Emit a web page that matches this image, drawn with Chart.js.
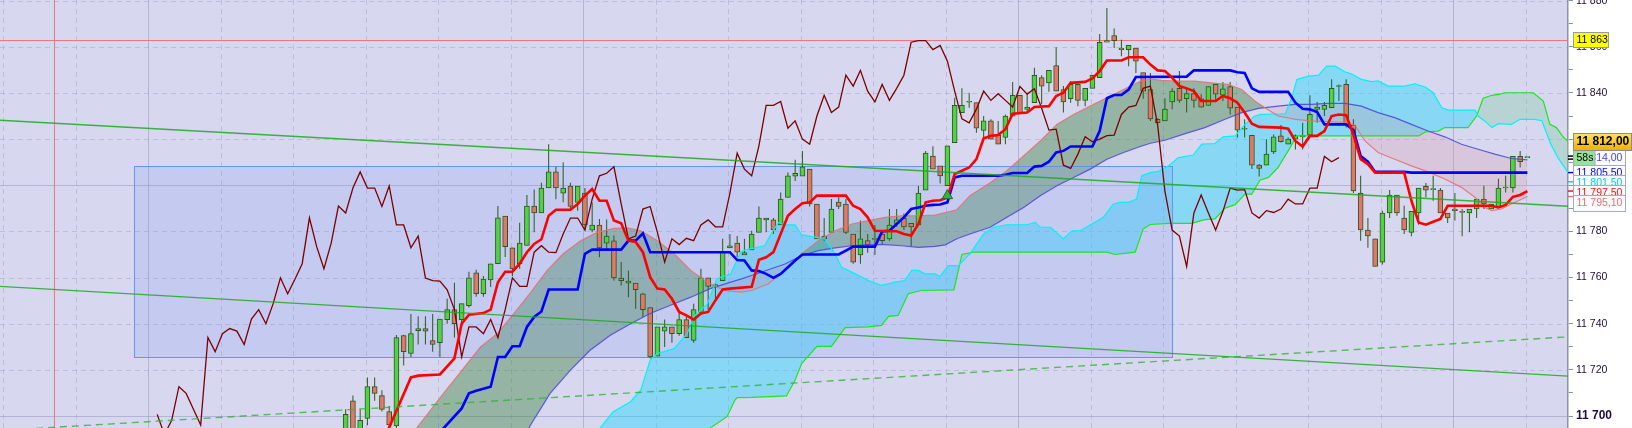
<!DOCTYPE html>
<html><head><meta charset="utf-8">
<script src="https://cdn.jsdelivr.net/npm/chart.js@4.4.1/dist/chart.umd.min.js"></script>
<style>html,body{margin:0;padding:0;background:#fff;overflow:hidden}#wrap{width:1632px;height:428px}</style>
</head><body><div id="wrap"><canvas id="c" width="1632" height="428"></canvas></div>
<script>
// ---------- DATA ----------
const opens = [
11690,11706.6,11692,11699,11712.8,11708.8,11701.9,11695.7,11734.9,11727.1,
11737,11737.9,11732.7,11731.8,11741.8,11746.1,11741.8,11747.8,11762.1,11753,
11759,11766,11786.7,11772.9,11766,11773.9,11791,11788,11798.8,11805.8,
11796.6,11799.7,11792.6,11796.6,11780.5,11782.8,11774.9,11775.9,11759.8,11757.6,
11757.6,11753,11747,11725.9,11736.8,11738.6,11735.7,11741.8,11732.8,11744.9,
11759.9,11757,11758.7,11772.9,11774.9,11769.8,11772,11779.6,11785,11785,
11782.8,11794.7,11804,11804,11807,11791.9,11776.8,11779.6,11792.7,11791.9,
11778.9,11769.8,11776,11776.5,11778.9,11776.8,11783.5,11785.8,11783.5,11782.8,
11797.9,11812.6,11808.4,11799.8,11818.5,11831.5,11836,11835.8,11823.8,11827.9,
11821.8,11820.7,11830,11839,11832.9,11835.8,11846.7,11844.4,11851.9,11841.5,
11837.5,11843.7,11836.8,11842,11846.6,11862,11864.9,11859.5,11858.8,11859.5,
11848.8,11841.5,11828.6,11827.9,11836.1,11842,11837.5,11839.7,11837.5,11834.6,
11843.7,11839,11842.8,11833.9,11824.3,11821.7,11808.7,11808.7,11814.5,11821.4,
11817.8,11820,11821,11821.7,11832.9,11832.9,11833.6,11842.8,11843.7,11826.1,
11796.6,11780.6,11776.8,11766.7,11788,11795.8,11785.8,11779.6,11788,11799.5,
11798.1,11797.9,11788,11789.7,11788.7,11788,11789.7,11794,11789.7,11790.8,
11798.8,11798.8,11812.5,11812];
const highs = [
11702.9,11708.9,11702.9,11716.7,11716.7,11711.2,11704.3,11735.1,11735.2,11744.2,
11743.2,11743.2,11744.2,11742,11750.8,11757.7,11748.7,11762.5,11763.4,11760.7,
11766,11791,11786.7,11772.9,11783.8,11795.8,11798.2,11801.1,11817.8,11808,
11810,11801.1,11799.7,11798.8,11792.6,11785.4,11785.2,11778.2,11766.8,11763.1,
11757.6,11753.4,11747,11738.6,11741.8,11738.6,11744.9,11743.2,11748.7,11763.8,
11759.9,11757.6,11776.8,11778.9,11778,11776.8,11780.3,11790.8,11785.8,11785.8,
11796.9,11805.5,11811.1,11814.9,11807,11791.9,11785.8,11794,11795.2,11794,
11778.9,11784.7,11778.9,11782.8,11780.6,11789.7,11789.7,11787.8,11783.5,11799.7,
11814.9,11816.9,11808.4,11817.1,11837.9,11842,11840.1,11835.8,11830,11828.6,
11827.9,11830.7,11844.8,11839,11840.1,11850.9,11847.7,11849.8,11859.8,11843,
11845.1,11843.7,11842,11847.7,11865.6,11876.8,11867.9,11863.1,11860.6,11859.5,
11848.8,11848.7,11829,11837.7,11842,11849.5,11842,11842,11839.4,11842.8,
11843.7,11844.8,11844.8,11833.9,11828.6,11821.7,11809.2,11820,11822,11826.1,
11820.7,11822,11827.1,11839,11836.1,11836.1,11845.9,11843.7,11845.9,11828.6,
11804.1,11785.8,11776.8,11789,11797.9,11795.8,11791.1,11788.7,11798.8,11801,
11804.1,11798.8,11788,11796.6,11789.7,11789.7,11794,11799.8,11791.9,11802.8,
11804.1,11812.5,11814.9,11812];
const lows = [
11688,11688,11688,11696,11706.6,11701.9,11694,11694,11721.9,11725.6,
11731,11731,11727.8,11725.6,11740,11734,11740,11747,11751.7,11751.7,
11755.9,11766,11768.9,11760.7,11763.8,11773.9,11779.6,11788,11798.8,11793.9,
11792.6,11789,11789,11780.5,11779.6,11768.8,11772.4,11758.7,11756.6,11751.5,
11746.5,11742.9,11724.9,11725.9,11729.9,11731.7,11734.8,11734,11731.7,11744.9,
11746.1,11750.7,11758.7,11772.9,11768.8,11769.8,11772,11779.6,11779.6,11778.9,
11782.8,11794.7,11801.9,11804,11790.8,11776.8,11776,11779.6,11789.7,11778.9,
11766,11766,11770.8,11769.8,11774.3,11776,11782,11780.6,11773.6,11782.8,
11797.9,11807,11800.8,11799.8,11818.5,11831.5,11833.6,11822.8,11820.4,11820,
11817.8,11817.8,11830,11831.5,11831.5,11835.8,11835.1,11840.5,11840.8,11831.5,
11835.8,11834.3,11834.3,11842,11846.6,11862,11859.5,11855.9,11851.6,11848.7,
11837.5,11827.9,11826.5,11827.9,11832.9,11835.8,11831.5,11833.6,11833.6,11834.6,
11836.5,11836.5,11830.7,11820.7,11820.7,11807,11803.8,11808.7,11813.6,11818.5,
11817.8,11815.5,11815.5,11821.7,11827.1,11830,11833.6,11836.5,11825,11796.6,
11776,11772.9,11764.8,11765.7,11785.8,11786.8,11778.9,11777.9,11782.9,11794.7,
11793.3,11788,11783.7,11784.7,11777.9,11779.6,11785.8,11789.7,11789.7,11790.8,
11796.9,11796.9,11807.7,11812];
const closes = [
11700.7,11692,11698.1,11712.7,11709.8,11702.9,11696.1,11734,11727.9,11735.7,
11737.9,11736.8,11731,11742,11746.1,11740,11748.7,11759.9,11753,11759.3,
11766,11785.9,11773.4,11763.8,11774.9,11791,11788,11798.8,11805.8,11798.8,
11798.8,11790.8,11799.7,11782.8,11782.8,11772.9,11778,11759.8,11758.7,11758.5,
11754.7,11746.1,11725.6,11738.6,11738.6,11735.7,11741.8,11734,11746.1,11759.9,
11756.2,11756.2,11771,11773.8,11771,11770.8,11778.9,11785.8,11785.8,11780.6,
11794,11804.1,11805.2,11808,11791.9,11776.8,11778,11789.7,11790.8,11779.6,
11766.7,11776.8,11774.3,11777,11776,11782.8,11785,11782,11782,11796.6,
11813.9,11807,11804.1,11817.1,11834.6,11834.6,11836.3,11824.7,11827.9,11820,
11817.8,11830,11839,11831.5,11833.9,11847.7,11843,11849.8,11840.8,11836.1,
11843.7,11836.8,11842,11847.7,11862,11862.7,11862.7,11858.8,11860.6,11853.8,
11840.8,11828.8,11827.1,11833,11840.8,11836.8,11839.7,11836.8,11833.9,11842.8,
11839.5,11841.8,11833.4,11823.9,11824.3,11808.7,11807.3,11813.5,11821,11818.9,
11820,11821.5,11821.7,11830.7,11833.9,11834.6,11842,11843,11826,11797.5,
11780.6,11778,11764.8,11788,11795.8,11788,11780.6,11788.7,11798.8,11797.9,
11798.1,11788,11785.8,11789,11788.2,11789.7,11794,11791.9,11791.9,11798.8,
11798.8,11812.5,11810.2,11812];

// lagging line = closes drawn this many candles back
const chikouShift = 26;

// conversion line (red)
const tenkanLine = [[5,11688],[6,11695],[9,11716.7],[10,11717.5],[13,11718],[15,11725],[16,11740],[17,11743.9],[19,11744.6],[20,11746.1],[21,11758],[22,11762.5],[23,11762.5],[24,11766],[25,11771],[26,11774.6],[27,11776.6],[28,11786.8],[29,11789.4],[31,11789.4],[32,11791.9],[33,11795.5],[34,11798.4],[35,11793.3],[36,11793.3],[37,11784.7],[38,11783.5],[39,11776],[40,11775.4],[41,11771],[42,11760.2],[43,11755.2],[44,11754.8],[45,11750.8],[46,11745.1],[47,11743.6],[48,11741.8],[49,11744.4],[50,11745.1],[51,11750.1],[52,11754.8],[53,11755.2],[56,11756],[57,11767.7],[58,11768.8],[59,11771],[61,11786.8],[62,11789.7],[63,11792.2],[64,11792.6],[65,11795.5],[69,11795.5],[70,11791.1],[71,11789.7],[72,11786.1],[73,11780.3],[76,11780.1],[77,11778.9],[78,11778.2],[79,11783.2],[80,11792.6],[81,11793.3],[82,11793.5],[83,11794.7],[84,11804.8],[85,11806.3],[86,11807.7],[87,11811.3],[88,11820.4],[89,11821.4],[90,11821.8],[91,11824.3],[92,11831],[94,11831.5],[95,11833.9],[97,11834.3],[98,11838.7],[99,11840.1],[100,11844.4],[102,11844.8],[103,11846.3],[104,11849.5],[105,11854.1],[107,11854.1],[108,11855.5],[110,11855.5],[111,11852.3],[112,11849.8],[113,11849.5],[114,11846.6],[115,11843],[116,11842],[117,11840.8],[118,11836.5],[120,11836.5],[121,11838.7],[122,11837.7],[123,11835.8],[124,11831.5],[125,11826.7],[126,11825.3],[129,11825],[130,11824.5],[131,11819.2],[132,11816.8],[133,11821.4],[134,11821.4],[135,11823.5],[136,11830],[137,11830.7],[138,11830.4],[139,11822],[140,11811.3],[141,11809.2],[142,11805.5],[146,11805.5],[147,11793.3],[148,11783.9],[149,11782.9],[150,11784.2],[151,11785.4],[152,11791.1],[158,11791.1],[159,11790.4],[160,11791.5],[161,11795],[162,11795.8],[163,11797.5]];

// base line (blue)
const kijunLine = [[13,11693],[16,11703.3],[17,11709.8],[18,11710.9],[20,11712.7],[21,11725.6],[22,11725.6],[23,11730.2],[24,11730.2],[25,11738.6],[26,11742.9],[27,11745.3],[28,11754.8],[32,11754.8],[33,11770.3],[34,11772.1],[38,11772.1],[39,11776],[40,11776],[41,11779.2],[42,11771],[53,11771],[54,11767.6],[55,11767.4],[56,11763.1],[57,11762.8],[58,11761.6],[59,11759.9],[60,11761.6],[61,11764.5],[62,11767.4],[63,11770],[68,11770],[69,11771.7],[70,11773.4],[73,11773.4],[74,11780],[75,11780.3],[76,11783.2],[77,11786.1],[78,11789.7],[79,11790.4],[80,11791.1],[81,11791.5],[82,11791.7],[83,11792.6],[84,11803.4],[85,11804.1],[90,11804.1],[91,11804.6],[92,11805.3],[94,11805.3],[95,11808.1],[96,11808.4],[97,11810.2],[98,11814.2],[99,11814.9],[100,11816.8],[103,11816.8],[104,11823.5],[105,11837.7],[106,11839.1],[107,11839.1],[108,11841.5],[109,11846.9],[116,11847.1],[117,11849.8],[122,11849.8],[123,11849],[124,11848.7],[125,11842],[126,11840.5],[130,11840.5],[131,11835.8],[132,11833.2],[133,11832.9],[134,11831.7],[135,11826.4],[138,11826.4],[139,11824],[140,11812.7],[141,11810.2],[142,11805.8],[146,11805.8],[147,11805.5],[163,11805.5]];

// thin pink average (upper edge of the grey band)
const bandPinkLine = [[9.5,11690],[9.8,11694.8],[13.5,11709.8],[18.6,11729.9],[20.9,11735.7],[23,11743.6],[25.5,11753.5],[27.8,11763.1],[30,11770.3],[32.4,11776],[34.7,11779.6],[37,11781.3],[38.8,11781.5],[40.7,11780.3],[43,11776],[45.3,11770.3],[47.6,11763.1],[49.9,11758],[52.2,11754.4],[54.5,11753.7],[56,11754.4],[58.3,11757.3],[60.6,11763.1],[62.9,11770.3],[65.2,11776],[67.5,11780.3],[69.8,11783.2],[72.1,11784.7],[74.4,11786.1],[76.7,11786.8],[79,11786.8],[81.3,11787.1],[84.3,11789.4],[86.1,11795.5],[88.9,11801.1],[91.2,11806.3],[93.5,11812.7],[95.8,11819.2],[98.1,11826.4],[100.4,11830.7],[102.7,11834.3],[105,11837.9],[107.3,11841.5],[109.6,11845.1],[111,11846.1],[112.5,11845.5],[114.85,11845.1],[117.1,11845.1],[119.4,11844.4],[121.7,11843.7],[123.6,11841.5],[125.4,11836.5],[126.8,11833.6],[128.6,11830],[131,11828.6],[133.2,11827.9],[135.5,11827.6],[137.8,11827.2],[139.2,11826],[140.6,11819.2],[142.4,11814.2],[144.7,11811.3],[147,11808.4],[149.3,11805.8],[151.6,11802.7],[153.9,11799.1],[155.8,11794.7],[157.1,11790.4],[158.1,11789],[159.4,11789.7],[160.8,11791.9],[163,11795.1]];

// thin blue average (lower edge of the grey band)
const bandBlueLine = [[9.5,11670],[24.5,11690],[25.5,11696.1],[28.2,11709.8],[31,11719.9],[33.7,11728.5],[36.5,11735],[39.3,11740],[42,11744.4],[44.8,11748],[47.6,11751.5],[50.3,11755.2],[53.1,11758],[54.5,11759.3],[56,11760.9],[58.3,11763.4],[60.6,11765.9],[62.9,11769.5],[65.2,11771.7],[67.5,11772.9],[69.8,11773.8],[72.1,11774.3],[74.4,11774.3],[76.7,11773.8],[79,11773.1],[81.3,11773.5],[82.7,11774.2],[84.3,11776.8],[86.1,11778.9],[88.9,11781.8],[91.2,11786.1],[93.5,11790.4],[95.8,11795.5],[98.1,11799.8],[100.4,11803.4],[102.7,11807],[105,11811.3],[107.3,11814.2],[109.6,11816.8],[111,11818.2],[113,11819.5],[115.8,11822.4],[118.5,11825],[121.3,11828.6],[123.6,11831.5],[125.9,11833.3],[128.6,11834.3],[131,11835.1],[133.2,11835.1],[135.5,11835.5],[137.8,11835.5],[140.1,11834.3],[142.4,11831.5],[144.7,11829.3],[147,11826.4],[149.3,11823.5],[151.6,11821],[153.9,11817.8],[156.2,11815.6],[158.5,11813.5],[160.8,11811.6],[163,11811]];

// leading span A (cyan) and leading span B (green)
const spanALine = [[35,11690],[35.1,11694.8],[36.9,11701.9],[39.3,11706.2],[40.7,11711.2],[42,11724.2],[43,11727.1],[45.3,11729.2],[47.1,11735.7],[48,11742.9],[49.9,11748.7],[51.2,11759.5],[53.1,11761.6],[54.5,11771],[55.1,11772],[57.8,11773.8],[58.8,11779.6],[59.7,11783.9],[60.6,11782.8],[62,11782.8],[62.9,11778.5],[64.7,11777.5],[66.1,11776.8],[67.5,11770.3],[68.4,11764.5],[70.3,11761.6],[72.1,11758.7],[73.9,11756.6],[75.8,11758],[77.1,11758.7],[78.1,11763.1],[79,11763.1],[79.9,11761.6],[81.3,11761.6],[82,11760.5],[83.1,11765.2],[84.5,11765.2],[86.1,11770.3],[88,11778.9],[89.4,11781.8],[91.2,11782.9],[94,11782.9],[95.1,11783.9],[95.8,11781.8],[97.2,11781.8],[99,11776.8],[100.2,11780.3],[101.3,11780.3],[103.1,11783.5],[104.5,11786.1],[105.9,11791.9],[106.8,11792.6],[108,11792.6],[109.1,11794],[109.8,11804.1],[111,11805.5],[112.1,11806],[113.5,11808.4],[114.85,11812],[116.9,11813.1],[118.1,11817.8],[119.9,11818.1],[121.05,11821],[122.7,11821.4],[124.05,11826.4],[125.4,11830],[126.3,11830.7],[129.6,11831],[130.5,11837.9],[131.2,11845.9],[132.8,11847.3],[134.2,11847.7],[135.3,11851.6],[136.5,11851.6],[137.8,11849.2],[138.7,11848.3],[140.1,11845.9],[141.5,11844.9],[142.4,11845.2],[143.8,11843],[146.1,11843],[147.5,11844],[148.9,11842.6],[150,11840.1],[151.2,11833.6],[152.1,11832.6],[155.8,11832.6],[156.2,11830],[157.1,11827.9],[158.1,11825],[159,11826.7],[160.8,11826.4],[162,11828.6],[164,11828.6],[165,11828],[166.2,11818],[167.2,11812],[168.5,11806],[169,11804]];
const spanBLine = [[35,11670],[50,11690],[50.3,11694.8],[52.6,11699.7],[53.7,11706.9],[54,11708],[56,11708.1],[60.8,11708.7],[62,11715.6],[62.9,11722.7],[65,11730.2],[67,11730.2],[68.9,11738.3],[72.1,11738.6],[73.9,11739.3],[74.9,11743.2],[76.2,11743.6],[77.6,11753],[79.4,11754.4],[83.9,11754.7],[85,11770],[86.6,11771],[105,11771],[106.1,11770],[108.9,11771],[110,11781.1],[111,11783],[113.5,11783.5],[116.7,11783.5],[118.5,11785.1],[119.9,11785.4],[121.3,11790.1],[122.7,11791.6],[124.05,11796.2],[125,11796.2],[126.1,11802.2],[127.3,11803.4],[128.6,11807.7],[130,11814.9],[131.2,11821.4],[148,11821.4],[148.9,11823.1],[150.7,11823.5],[151.6,11825],[154.8,11825],[156,11830],[156.9,11837.7],[158.1,11839],[159.2,11839.5],[159.9,11840.1],[163.8,11840.1],[165.2,11836.5],[166.1,11826.4],[167,11825],[168,11820.7],[169,11818]];

// drawn trend lines (two points each)
const trendUpper = [[-47.68,11828.2],[168.6,11790.9]];
const trendLower = [[-47.68,11756.2],[168.6,11717.3]];
const trendDashed = [[-47.68,11693.7],[168.6,11734.3]];
// drawn zone box: candle index range and price range
const zoneX = [-29.2, 114];
const zoneY = [11725.4, 11808.3];
// red cross-hair annotations
const markerLevel = 11863;
const markerIdx = -40.2;
// buy arrow
const arrowPoint = [[83, 11795.5]];
// right-axis tags
const yTickValues = [11700,11710,11720,11730,11740,11750,11760,11770,11780,11790,11800,11810,11820,11830,11840,11850,11860,11870,11880];
const lastPrice = 11812;
const countdownText = '58s';
const hiddenLevel = 11814;
const levelValues = [11805.5, 11801.5, 11797.5, 11795.1];

// ---------- helpers ----------
const fmtInt = v => String(Math.floor(v)).replace(/\B(?=(\d{3})+(?!\d))/g, ' ');
const fmtDec = v => fmtInt(v) + ',' + v.toFixed(2).split('.')[1];
const pts = arr => arr.map(([x, y]) => ({x, y}));

const GREEN_BODY = '#52d048', RED_BODY = '#e2766a', CANDLE_EDGE = '#2a5a1c';
const levelColors = ['#0000ff', '#00d2de', '#ff1010', '#e07272'];

const bodyData = opens.map((o, i) => ({x: i, y: [o, closes[i]]}));
const wickData = opens.map((o, i) => ({x: i, y: [lows[i], highs[i]]}));
const bodyColors = opens.map((o, i) => closes[i] >= o ? GREEN_BODY : RED_BODY);
const chikouData = closes.map((c, i) => ({x: i - chikouShift, y: c}));

const lineBase = {type: 'line', pointRadius: 0, pointHoverRadius: 0, tension: 0, clip: 0, fill: false};

const datasets = [
  {type: 'bar', data: wickData, backgroundColor: CANDLE_EDGE, barThickness: 1, grouped: false, order: 20, inflateAmount: 0, clip: 0},
  {type: 'bar', data: bodyData, backgroundColor: bodyColors, borderColor: CANDLE_EDGE, borderWidth: 1, borderSkipped: false, barThickness: 5, grouped: false, minBarLength: 1, order: 19, clip: 0},
  {...lineBase, data: pts(bandBlueLine), borderColor: 'rgba(70,70,215,0.85)', borderWidth: 1.2, order: 9},
  {...lineBase, data: pts(bandPinkLine), borderColor: 'rgba(232,110,110,0.85)', borderWidth: 1.2, order: 8,
    fill: {target: 2, above: 'rgba(60,130,60,0.42)', below: 'rgba(225,140,150,0.22)'}},
  {...lineBase, data: pts(spanBLine), borderColor: '#1ee61e', borderWidth: 1.2, order: 9},
  {...lineBase, data: pts(spanALine), borderColor: '#00f4f4', borderWidth: 1.2, order: 8,
    fill: {target: 4, above: 'rgba(40,215,250,0.45)', below: 'rgba(140,205,170,0.40)'}},
  {...lineBase, data: chikouData, borderColor: '#7c0000', borderWidth: 1.3, order: 6},
  {...lineBase, data: pts(kijunLine), borderColor: '#0000ff', borderWidth: 2.6, order: 5},
  {...lineBase, data: pts(tenkanLine), borderColor: '#ff0000', borderWidth: 2.6, order: 4},
  {...lineBase, data: pts(trendUpper), borderColor: 'rgba(30,170,30,0.85)', borderWidth: 1.4, order: 3},
  {...lineBase, data: pts(trendLower), borderColor: 'rgba(30,170,30,0.85)', borderWidth: 1.4, order: 3},
  {...lineBase, data: pts(trendDashed), borderColor: 'rgba(50,180,50,0.8)', borderWidth: 1.4, borderDash: [7, 5], order: 3},
  {...lineBase, data: pts(arrowPoint), showLine: false, pointRadius: 6, pointStyle: 'triangle', backgroundColor: '#3cae3c', borderColor: '#1f6e1f', borderWidth: 1, order: 1}
];

// ---------- plugins ----------
const backdrop = {
  id: 'backdrop',
  beforeDraw(chart) {
    const {ctx, chartArea: a, scales: {x, y}} = chart;
    ctx.save();
    ctx.fillStyle = '#ffffff';
    ctx.fillRect(0, 0, chart.width, chart.height);
    ctx.fillStyle = '#d7d7f0';
    ctx.fillRect(a.left, a.top, a.right - a.left, a.bottom - a.top);
    ctx.lineWidth = 1;
    for (let v = 11700; v <= 11880; v += 20) {
      const py = Math.round(y.getPixelForValue(v)) + 0.5;
      const solid = v % 100 === 0;
      ctx.setLineDash(solid ? [] : [5, 4]);
      ctx.strokeStyle = solid ? 'rgba(150,150,190,0.55)' : 'rgba(150,150,195,0.4)';
      ctx.beginPath(); ctx.moveTo(a.left, py); ctx.lineTo(a.right, py); ctx.stroke();
    }
    for (let k = 0; k < 23; k++) {
      const idx = -47.2 + 10 * k;
      const px = Math.round(x.getPixelForValue(idx)) + 0.5;
      if (px < a.left || px > a.right) continue;
      const solid = k % 6 === 2;
      ctx.setLineDash(solid ? [] : [5, 4]);
      ctx.strokeStyle = solid ? 'rgba(150,150,190,0.55)' : 'rgba(150,150,195,0.4)';
      ctx.beginPath(); ctx.moveTo(px, a.top); ctx.lineTo(px, a.bottom); ctx.stroke();
    }
    ctx.restore();
  },
  beforeDatasetsDraw(chart) {
    const {ctx, chartArea: a, scales: {x, y}} = chart;
    ctx.save();
    ctx.beginPath(); ctx.rect(a.left, a.top, a.right - a.left, a.bottom - a.top); ctx.clip();
    // zone box
    const x0 = x.getPixelForValue(zoneX[0]), x1 = x.getPixelForValue(zoneX[1]);
    const y0 = y.getPixelForValue(zoneY[1]), y1 = y.getPixelForValue(zoneY[0]);
    ctx.fillStyle = 'rgba(120,150,240,0.2)';
    ctx.fillRect(x0, y0, x1 - x0, y1 - y0);
    ctx.strokeStyle = 'rgba(95,145,240,0.95)';
    ctx.lineWidth = 1;
    ctx.strokeRect(Math.round(x0) + 0.5, Math.round(y0) + 0.5, Math.round(x1 - x0), Math.round(y1 - y0));
    // red annotations
    ctx.strokeStyle = 'rgba(240,110,110,0.9)';
    const my = Math.round(y.getPixelForValue(markerLevel)) + 0.5;
    ctx.beginPath(); ctx.moveTo(a.left, my); ctx.lineTo(a.right, my); ctx.stroke();
    const mx = Math.round(x.getPixelForValue(markerIdx)) + 0.5;
    ctx.beginPath(); ctx.moveTo(mx, a.top); ctx.lineTo(mx, a.bottom); ctx.stroke();
    ctx.restore();
  }
};

function tag(ctx, x, yc, w, h, fill, stroke, text, color, font) {
  const top = Math.round(yc - h / 2) + 0.5;
  ctx.fillStyle = fill;
  ctx.fillRect(x, top, w, h);
  ctx.strokeStyle = stroke; ctx.lineWidth = 1;
  ctx.strokeRect(x, top, w, h);
  ctx.fillStyle = color; ctx.font = font;
  ctx.textBaseline = 'middle'; ctx.textAlign = 'left';
  ctx.fillText(text, x + 3, yc + 0.5);
}

const axisTags = {
  id: 'axisTags',
  afterDraw(chart) {
    const {ctx, chartArea: a, scales: {y}} = chart;
    const L = Math.round(a.right) + 5.5;
    const F = "10.5px 'Liberation Sans', Arial, sans-serif";
    ctx.save();
    // colored tick marks at exact levels
    const pricePx = y.getPixelForValue(lastPrice);
    ctx.lineWidth = 1.5;
    ctx.strokeStyle = '#000';
    [-1.5, 1.5].forEach(d => { ctx.beginPath(); ctx.moveTo(a.right, pricePx + d); ctx.lineTo(a.right + 6, pricePx + d); ctx.stroke(); });
    levelValues.forEach((v, i) => {
      const py = y.getPixelForValue(v);
      ctx.strokeStyle = levelColors[i];
      ctx.beginPath(); ctx.moveTo(a.right, py); ctx.lineTo(a.right + 6, py); ctx.stroke();
    });
    // level tag of the red horizontal line
    tag(ctx, L, y.getPixelForValue(markerLevel), 35, 15, '#ffff00', '#9a9a9a', fmtInt(markerLevel), '#000', F);
    // hidden tag behind countdown
    tag(ctx, L, Math.max(y.getPixelForValue(hiddenLevel), pricePx), 52, 16, '#fbfbff', '#a4adb8', fmtDec(hiddenLevel), '#4646c8', F);
    // countdown tag
    tag(ctx, L, pricePx, 21.5, 15.5, '#96e296', '#a4adb8', countdownText, '#000', F);
    // current price tag (sits above countdown)
    const ph = 17, pTop = pricePx - 7.75 - ph;
    const g = ctx.createLinearGradient(0, pTop, 0, pTop + ph);
    g.addColorStop(0, '#ffe268'); g.addColorStop(1, '#f2b200');
    tag(ctx, L, pTop + ph / 2, 58, ph, g, '#8c8c8c', fmtDec(lastPrice), '#000', "bold 12px 'Liberation Sans', Arial, sans-serif");
    // stacked line-value tags
    let prev = -1e9;
    levelValues.forEach((v, i) => {
      let py = y.getPixelForValue(v);
      if (py - prev < 10) py = prev + 10;
      prev = py;
      tag(ctx, L, py, 52, 16, '#fbfbff', '#a4adb8', fmtDec(v), levelColors[i], F);
    });
    ctx.restore();
  }
};

new Chart(document.getElementById('c'), {
  type: 'bar',
  data: {datasets},
  options: {
    responsive: false,
    animation: false,
    events: [],
    layout: {padding: 0, autoPadding: false},
    plugins: {legend: {display: false}, tooltip: {enabled: false}, filler: {drawTime: 'beforeDatasetsDraw', propagate: false}},
    scales: {
      x: {type: 'linear', display: false, min: -47.68, max: 168.6, offset: false, grid: {display: false}},
      y: {
        position: 'right', min: 11694.8, max: 11880.3,
        afterBuildTicks: s => { s.ticks = yTickValues.map(v => ({value: v})); },
        afterFit: s => { s.width = 64; s.paddingTop = 0; s.paddingBottom = 0; },
        grid: {drawOnChartArea: false, drawTicks: true, tickLength: 5, tickColor: '#8a95a6', tickWidth: 1},
        border: {display: true, color: '#8a95a6', width: 1.5},
        ticks: {
          padding: 3, color: '#1c0c3c',
          font: c => (c.tick && c.tick.value === 11700)
            ? {family: "'Liberation Sans', Arial, sans-serif", size: 12, weight: 'bold'}
            : {family: "'Liberation Sans', Arial, sans-serif", size: 10.5, weight: 'normal'},
          callback: v => (v % 20 === 0) ? fmtInt(v) : ''
        }
      }
    }
  },
  plugins: [backdrop, axisTags]
});
</script></body></html>
